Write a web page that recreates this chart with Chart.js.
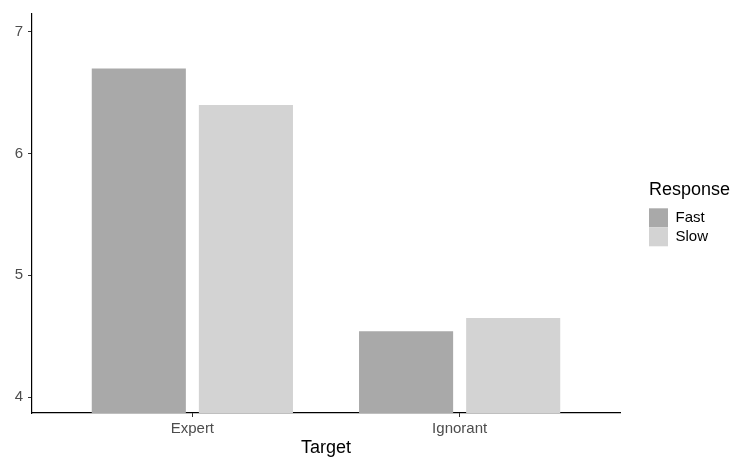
<!DOCTYPE html>
<html>
<head>
<meta charset="utf-8">
<script src="https://cdn.jsdelivr.net/npm/chart.js@4"></script>
<style>
  html, body { margin: 0; padding: 0; background: #fff; }
  #wrap { width: 733px; height: 459px; }
</style>
</head>
<body>
<div id="wrap"><canvas id="barChart" width="733" height="459"></canvas></div>
<script>
const targets = ['Expert', 'Ignorant'];
const responses = ['Fast', 'Slow'];
const fastValues = [6.70, 4.54];
const slowValues = [6.40, 4.65];
const yTicks = [4, 5, 6, 7];

const fontFamily = "'Liberation Sans', Arial, sans-serif";

function toPoints(values) {
    return values.map((v, i) => ({ x: i, y: v }));
}

// legend box keeps a fixed width so the title is not cut
const legendWidth = {
    id: 'legendWidth',
    beforeLayout(chart) {
        const legend = chart.legend;
        if (legend && !legend._fixedWidth) {
            const fit = legend.fit.bind(legend);
            legend.fit = function () {
                fit();
                this.width = 84;
            };
            legend._fixedWidth = true;
        }
    }
};

const ctx = document.getElementById('barChart').getContext('2d');

new Chart(ctx, {
    type: 'bar',
    data: {
        datasets: [{
            label: responses[0],
            data: toPoints(fastValues),
            backgroundColor: '#A9A9A9',
            borderWidth: 0,
            categoryPercentage: 0.8015,
            barPercentage: 0.8785
        }, {
            label: responses[1],
            data: toPoints(slowValues),
            backgroundColor: '#D3D3D3',
            borderWidth: 0,
            categoryPercentage: 0.8015,
            barPercentage: 0.8785
        }]
    },
    plugins: [legendWidth],
    options: {
        responsive: false,
        animation: false,
        devicePixelRatio: 1,
        events: [],
        layout: {
            padding: { top: 13, right: 0, bottom: 0, left: 0 }
        },
        scales: {
            x: {
                type: 'linear',
                min: -0.6,
                max: 1.6,
                offset: false,
                afterBuildTicks: (scale) => {
                    scale.ticks = targets.map((t, i) => ({ value: i }));
                },
                afterFit: (scale) => { scale.height = 46; },
                ticks: {
                    callback: (value) => targets[value],
                    color: '#4D4D4D',
                    font: { family: fontFamily, size: 15 },
                    padding: 3,
                    maxRotation: 0,
                    autoSkip: false
                },
                grid: {
                    offset: false,
                    drawOnChartArea: false,
                    drawTicks: true,
                    tickLength: 4,
                    tickColor: '#333333'
                },
                border: { display: true, color: '#000000', width: 1.2 },
                title: {
                    display: true,
                    text: 'Target',
                    color: '#000000',
                    font: { family: fontFamily, size: 18, lineHeight: 1.2 },
                    padding: { top: 0, bottom: 0 }
                }
            },
            y: {
                type: 'linear',
                min: 3.869,
                max: 7.1475,
                afterBuildTicks: (scale) => {
                    scale.ticks = yTicks.map(v => ({ value: v }));
                },
                afterFit: (scale) => { scale.width = 32; },
                ticks: {
                    color: '#4D4D4D',
                    font: { family: fontFamily, size: 15 },
                    padding: 5
                },
                grid: {
                    drawOnChartArea: false,
                    drawTicks: true,
                    tickLength: 4,
                    tickColor: '#333333'
                },
                border: { display: true, color: '#000000', width: 1.2 }
            },
            gap: {
                type: 'linear',
                position: 'right',
                afterFit: (scale) => { scale.width = 29; },
                ticks: { display: false },
                grid: { display: false },
                border: { display: false }
            }
        },
        plugins: {
            tooltip: { enabled: false },
            legend: {
                position: 'right',
                fullSize: false,
                align: 'center',
                title: {
                    display: true,
                    text: 'Response',
                    color: '#000000',
                    position: 'start',
                    font: { family: fontFamily, size: 18, lineHeight: 1.2 },
                    padding: { top: 0, bottom: 6 }
                },
                labels: {
                    color: '#000000',
                    font: { family: fontFamily, size: 15 },
                    boxWidth: 19,
                    boxHeight: 19,
                    padding: 0
                }
            }
        }
    }
});
</script>
</body>
</html>
